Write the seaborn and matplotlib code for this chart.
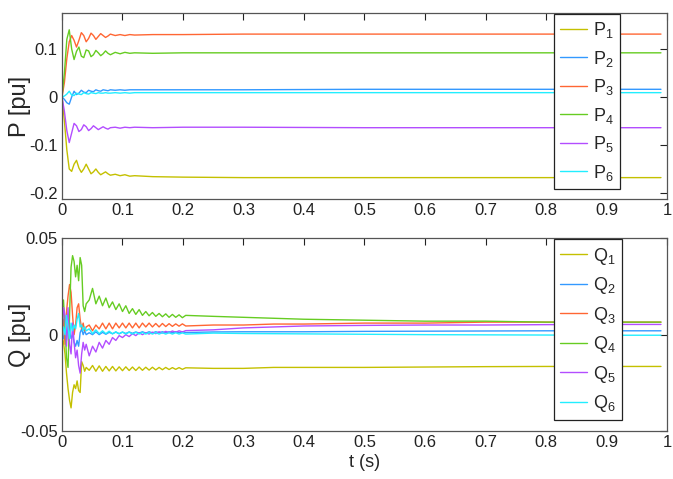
import matplotlib
matplotlib.use("Agg")
import matplotlib.pyplot as plt
import seaborn as sns
import pandas as pd

# ---------------- data ----------------
t_P = [0, 0.004, 0.008, 0.012, 0.016, 0.020, 0.024, 0.028, 0.032, 0.036, 0.040,
       0.044, 0.048, 0.052, 0.056, 0.060, 0.064, 0.068, 0.072, 0.076, 0.080,
       0.088, 0.096, 0.104, 0.112, 0.12, 0.15, 0.2, 0.3, 0.5, 0.7, 0.99]

P1 = [0, -0.05, -0.11, -0.150, -0.155, -0.140, -0.132, -0.148, -0.157, -0.150, -0.140,
      -0.150, -0.160, -0.156, -0.150, -0.157, -0.162, -0.159, -0.156, -0.160, -0.163,
      -0.161, -0.164, -0.162, -0.165, -0.164, -0.166, -0.167, -0.168, -0.168, -0.168, -0.168]
P2 = [0, -0.005, -0.012, -0.015, 0.0, 0.012, 0.005, 0.008, 0.014, 0.010, 0.009,
      0.014, 0.012, 0.011, 0.015, 0.013, 0.012, 0.015, 0.014, 0.013, 0.015,
      0.014, 0.015, 0.014, 0.015, 0.015, 0.015, 0.015, 0.015, 0.016, 0.016, 0.016]
P3 = [0, 0.03, 0.08, 0.115, 0.128, 0.118, 0.104, 0.118, 0.134, 0.128, 0.115,
      0.122, 0.133, 0.128, 0.120, 0.126, 0.132, 0.128, 0.124, 0.127, 0.131,
      0.128, 0.130, 0.128, 0.130, 0.129, 0.130, 0.130, 0.131, 0.131, 0.131, 0.131]
P4 = [0, 0.05, 0.12, 0.140, 0.100, 0.078, 0.095, 0.104, 0.085, 0.082, 0.098,
      0.096, 0.084, 0.088, 0.097, 0.092, 0.086, 0.090, 0.096, 0.091, 0.088,
      0.093, 0.090, 0.093, 0.091, 0.092, 0.091, 0.092, 0.092, 0.092, 0.092, 0.092]
P5 = [0, -0.03, -0.07, -0.095, -0.075, -0.055, -0.060, -0.072, -0.068, -0.058, -0.062,
      -0.070, -0.066, -0.060, -0.064, -0.068, -0.065, -0.062, -0.065, -0.067, -0.064,
      -0.063, -0.065, -0.063, -0.064, -0.063, -0.064, -0.063, -0.063, -0.064, -0.064, -0.064]
P6 = [0, 0.002, 0.006, 0.012, 0.004, 0.003, 0.008, 0.006, 0.005, 0.009, 0.007,
      0.006, 0.009, 0.008, 0.007, 0.009, 0.008, 0.008, 0.009, 0.008, 0.008,
      0.009, 0.008, 0.009, 0.008, 0.009, 0.009, 0.009, 0.009, 0.009, 0.009, 0.009]

t_Q = [0, 0.0025, 0.005, 0.0075, 0.01, 0.0125, 0.015, 0.0175, 0.02, 0.0225, 0.025,
       0.0275, 0.03, 0.0325, 0.035, 0.0375, 0.04,
       0.045, 0.0505, 0.056, 0.0615, 0.067, 0.0725, 0.078, 0.0835, 0.089, 0.0945,
       0.1, 0.1055, 0.111, 0.1165, 0.122, 0.1275, 0.133, 0.1385, 0.144, 0.1495,
       0.155, 0.1605, 0.166, 0.1715, 0.177, 0.1825, 0.188, 0.1935, 0.199, 0.2045,
       0.25, 0.3, 0.35, 0.4, 0.5, 0.6, 0.7, 0.8, 0.9, 0.99]

Q1 = [0, -0.004, -0.010, -0.020, -0.028, -0.034, -0.038, -0.030, -0.026, -0.028, -0.024,
      -0.029, -0.030, -0.014, -0.016, -0.019, -0.017,
      -0.0185, -0.0160, -0.0190, -0.0162, -0.0190, -0.0165, -0.0188, -0.0165, -0.0188, -0.0167,
      -0.0187, -0.0167, -0.0186, -0.0168, -0.0186, -0.0168, -0.0185, -0.0169, -0.0184, -0.0169,
      -0.0183, -0.0170, -0.0182, -0.0170, -0.0181, -0.0171, -0.0180, -0.0171, -0.0180, -0.0172,
      -0.0175, -0.0175, -0.017, -0.017, -0.017, -0.0168, -0.0166, -0.0165, -0.0165, -0.0165]
Q2 = [0, -0.002, 0.004, -0.003, 0.005, 0.002, -0.002, 0.0, -0.004, -0.006, -0.003,
      -0.006, 0.001, 0.003, 0.0, 0.002, 0.0,
      0.001, 0.0, 0.0015, 0.0, 0.0012, 0.0002, 0.0012, 0.0005, 0.0013, 0.0005,
      0.0013, 0.0006, 0.0014, 0.0007, 0.0014, 0.0008, 0.0015, 0.0008, 0.0015, 0.0009,
      0.0015, 0.001, 0.0015, 0.001, 0.0015, 0.001, 0.0015, 0.001, 0.0015, 0.0011,
      0.0014, 0.0015, 0.0015, 0.0015, 0.0017, 0.0018, 0.0019, 0.002, 0.002, 0.002]
Q3 = [0, 0.008, -0.005, 0.012, 0.020, 0.026, 0.022, 0.010, 0.0, 0.005, 0.014,
      0.016, 0.008, 0.003, 0.006, 0.002, 0.004,
      0.005, 0.002, 0.005, 0.003, 0.006, 0.003, 0.006, 0.003, 0.006, 0.0035,
      0.006, 0.0035, 0.006, 0.0035, 0.006, 0.0035, 0.006, 0.004, 0.006, 0.004,
      0.0058, 0.004, 0.0058, 0.0042, 0.0057, 0.0043, 0.0056, 0.0044, 0.0056, 0.0045,
      0.005, 0.005, 0.0055, 0.0055, 0.006, 0.006, 0.0065, 0.0065, 0.0065, 0.0065]
Q4 = [0, 0.018, 0.004, -0.012, -0.017, 0.010, 0.035, 0.041, 0.038, 0.030, 0.036,
      0.028, 0.040, 0.036, 0.015, 0.012, 0.016,
      0.018, 0.024, 0.016, 0.020, 0.015, 0.019, 0.014, 0.017, 0.013, 0.016,
      0.012, 0.015, 0.011, 0.0135, 0.0105, 0.013, 0.010, 0.012, 0.0098, 0.0115,
      0.0095, 0.011, 0.0093, 0.0108, 0.009, 0.0105, 0.009, 0.0103, 0.0088, 0.010,
      0.0095, 0.009, 0.0085, 0.008, 0.0075, 0.007, 0.007, 0.0065, 0.0065, 0.0065]
Q5 = [0, 0.014, 0.010, -0.006, 0.014, -0.005, -0.010, 0.006, -0.004, -0.012, -0.008,
      -0.016, -0.020, -0.010, -0.004, -0.008, -0.005,
      -0.011, -0.006, -0.009, -0.004, -0.007, -0.003, -0.005, -0.0015, -0.003, -0.0005,
      -0.0015, 0.0, -0.001, 0.0005, -0.0005, 0.001, 0.0, 0.001, 0.0003, 0.0013,
      0.0005, 0.0015, 0.0008, 0.0017, 0.001, 0.0019, 0.0012, 0.002, 0.0014, 0.0021,
      0.0025, 0.0035, 0.004, 0.0045, 0.0048, 0.005, 0.005, 0.0052, 0.0053, 0.0053]
Q6 = [0, 0.004, 0.0, 0.010, 0.004, -0.002, 0.006, 0.002, 0.005, 0.003, 0.008,
      0.011, 0.004, 0.005, 0.002, 0.004, 0.002,
      0.003, 0.0005, 0.0025, 0.0005, 0.002, 0.0005, 0.0018, 0.0004, 0.0015, 0.0004,
      0.0014, 0.0003, 0.0013, 0.0003, 0.0012, 0.0003, 0.0012, 0.0003, 0.0011, 0.0003,
      0.0011, 0.0003, 0.001, 0.0003, 0.001, 0.0003, 0.001, 0.0003, 0.0009, 0.0003,
      0.0008, 0.0006, 0.0005, 0.0004, 0.0002, 0.0, -0.0001, -0.0002, -0.0003, -0.0003]

P_labels = ["$\\mathregular{P_1}$", "$\\mathregular{P_2}$", "$\\mathregular{P_3}$",
            "$\\mathregular{P_4}$", "$\\mathregular{P_5}$", "$\\mathregular{P_6}$"]
Q_labels = ["$\\mathregular{Q_1}$", "$\\mathregular{Q_2}$", "$\\mathregular{Q_3}$",
            "$\\mathregular{Q_4}$", "$\\mathregular{Q_5}$", "$\\mathregular{Q_6}$"]
colors = ["#c4c000", "#3399ff", "#ff6633", "#66cc22", "#b34dff", "#22eeff"]

x_ticks = [0, 0.1, 0.2, 0.3, 0.4, 0.5, 0.6, 0.7, 0.8, 0.9, 1.0]
x_ticklabels = ["0", "0.1", "0.2", "0.3", "0.4", "0.5", "0.6", "0.7", "0.8", "0.9", "1"]
P_ticks = [-0.2, -0.1, 0, 0.1]
P_ticklabels = ["-0.2", "-0.1", "0", "0.1"]
Q_ticks = [-0.05, 0, 0.05]
Q_ticklabels = ["-0.05", "0", "0.05"]

# ---------------- style ----------------
sns.set_style("white")
FONT = ["Liberation Sans Narrow", "Liberation Sans", "DejaVu Sans"]
plt.rcParams["font.family"] = FONT
plt.rcParams["mathtext.fontset"] = "custom"
plt.rcParams["mathtext.rm"] = "Liberation Sans"

fig = plt.figure(figsize=(6.73, 4.79), dpi=100)
ax1 = fig.add_axes([0.0921, 0.5846, 0.899, 0.3883])
ax2 = fig.add_axes([0.0921, 0.1002, 0.899, 0.4023])


def long_df(t, series, labels):
    rows = []
    for lab, vals in zip(labels, series):
        for tt, vv in zip(t, vals):
            rows.append((tt, vv, lab))
    return pd.DataFrame(rows, columns=["t", "v", "s"])


dfP = long_df(t_P, [P1, P2, P3, P4, P5, P6], P_labels)
dfQ = long_df(t_Q, [Q1, Q2, Q3, Q4, Q5, Q6], Q_labels)

for ax, df, labels, ticks, tlabels, ylim, ylab in [
    (ax1, dfP, P_labels, P_ticks, P_ticklabels, (-0.2125, 0.175), "P [pu]"),
    (ax2, dfQ, Q_labels, Q_ticks, Q_ticklabels, (-0.05, 0.05), "Q [pu]"),
]:
    sns.lineplot(data=df, x="t", y="v", hue="s", hue_order=labels,
                 palette=dict(zip(labels, colors)), estimator=None, sort=False,
                 linewidth=1.0, ax=ax)
    ax.set_xlim(0, 1)
    ax.set_ylim(*ylim)
    ax.set_xticks(x_ticks)
    ax.set_xticklabels(x_ticklabels)
    ax.set_yticks(ticks)
    ax.set_yticklabels(tlabels)
    ax.tick_params(direction="in", length=5, width=0.8, top=True, right=True,
                   labelsize=12, colors="#222222", pad=3)
    for sp in ax.spines.values():
        sp.set_color("#555555")
        sp.set_linewidth(0.9)
    ax.set_ylabel(ylab, fontsize=17)
    ax.yaxis.set_label_coords(-0.052, 0.5)
    ax.set_xlabel("")
    leg = ax.legend(loc="upper left", bbox_to_anchor=(0.813, 0.995), fontsize=13,
                    frameon=True, fancybox=False, framealpha=1, edgecolor="#222222",
                    handlelength=1.5, labelspacing=0.47, borderpad=0.35,
                    handletextpad=0.3, borderaxespad=0)
    leg.get_frame().set_linewidth(0.9)

ax2.set_xlabel("t (s)", fontsize=13, labelpad=3)

fig.savefig("out.png", dpi=100)
